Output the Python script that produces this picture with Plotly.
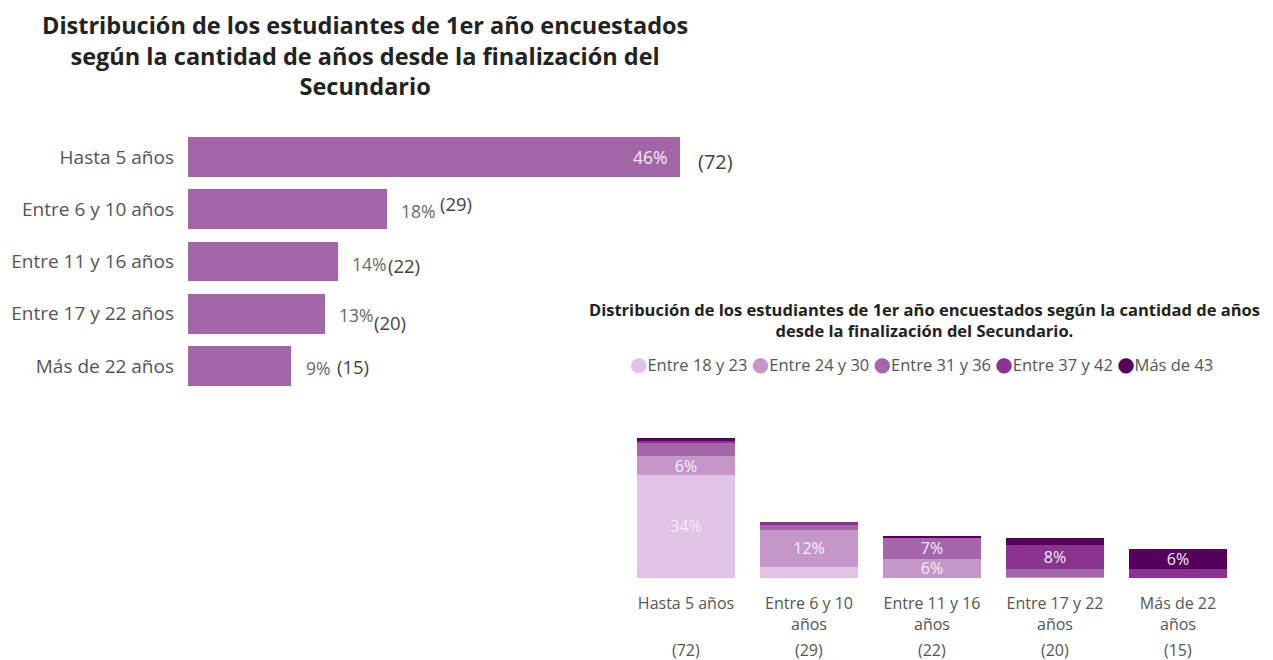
import plotly.graph_objects as go

# page body has an 8px margin, so the figure is drawn 8px in from the corner
OX, OY = 8, 8
W, H = 1265, 652
FONT = "Open Sans"

# left chart data
cats = ["Hasta 5 años", "Entre 6 y 10 años", "Entre 11 y 16 años", "Entre 17 y 22 años", "Más de 22 años"]
pct = [45.6, 18.4, 13.9, 12.7, 9.5]
pct_labels = ["46%", "18%", "14%", "13%", "9%"]
counts = ["(72)", "(29)", "(22)", "(20)", "(15)"]

# right chart data (share of all respondents, %)
tick_labels = ["Hasta 5 años", "Entre 6 y 10<br>años", "Entre 11 y 16<br>años", "Entre 17 y 22<br>años", "Más de 22<br>años"]
groups = ["Entre 18 y 23", "Entre 24 y 30", "Entre 31 y 36", "Entre 37 y 42", "Más de 43"]
seg_18_23 = [34.0, 3.6, 0, 0, 0]
seg_24_30 = [6.0, 12.3, 6.3, 0.4, 0]
seg_31_36 = [4.7, 1.6, 7.0, 2.6, 0]
seg_37_42 = [0.6, 0.8, 0, 8.0, 3.0]
seg_43 = [0.6, 0, 0.6, 2.0, 6.5]
txt_18_23 = ["34%", "", "", "", ""]
txt_24_30 = ["6%", "12%", "6%", "", ""]
txt_31_36 = ["", "", "7%", "", ""]
txt_37_42 = ["", "", "", "8%", ""]
txt_43 = ["", "", "", "", "6%"]

colors = ["#e0c3e6", "#c597c9", "#a565ab", "#8a3390", "#55005a"]


def px_x(p):
    return (p - OX) / W


def px_y(p):
    return 1 - (p - OY) / H


fig = go.Figure()

fig.add_bar(x=pct, y=cats, orientation="h", marker_color="#a265a8", marker_line_width=0,
            width=0.766, xaxis="x", yaxis="y", showlegend=False, hoverinfo="skip")

segs = [seg_18_23, seg_24_30, seg_31_36, seg_37_42, seg_43]
txts = [txt_18_23, txt_24_30, txt_31_36, txt_37_42, txt_43]
for name, vals, t, c in zip(groups, segs, txts, colors):
    fig.add_bar(x=cats, y=vals, text=t, name=name, textposition="inside", insidetextanchor="middle",
                textfont=dict(family=FONT, size=16, color="#f6eef6"), marker_color=c,
                marker_line_width=0, xaxis="x2", yaxis="y2", showlegend=False,
                hoverinfo="skip")

ann = []
# left chart labels
pct_dx = [None, 12, 12, 12, 13]
pct_dy = [0, -2, -2, -1, -2]
cnt_dx = [16, 51, 48, 47, 44]
cnt_dy = [-4, 6, -4, -9, -1]
for i, c in enumerate(cats):
    if i == 0:
        ann.append(dict(x=pct[i], y=c, xref="x", yref="y", text=pct_labels[i], showarrow=False,
                        xanchor="right", xshift=-11, font=dict(family=FONT, size=17.5, color="#f3eaf3")))
    else:
        ann.append(dict(x=pct[i], y=c, xref="x", yref="y", text=pct_labels[i], showarrow=False,
                        xanchor="left", xshift=pct_dx[i], yshift=pct_dy[i],
                        font=dict(family=FONT, size=17.5, color="#6a6a6a")))
    ann.append(dict(x=pct[i], y=c, xref="x", yref="y", text=counts[i], showarrow=False,
                    xanchor="left", xshift=cnt_dx[i], yshift=cnt_dy[i],
                    font=dict(family=FONT, size=20 if i == 0 else 18.5, color="#444444")))

# counts under right chart
for i, c in enumerate(cats):
    ann.append(dict(x=c, y=px_y(650), xref="x2", yref="paper", text=counts[i], showarrow=False,
                    xanchor="center", yanchor="middle",
                    font=dict(family=FONT, size=16, color="#555555")))

# titles
ann.append(dict(x=px_x(365), y=1, xref="paper", yref="paper", showarrow=False,
                xanchor="center", yanchor="top", borderpad=0,
                text="<b>Distribución de los estudiantes de 1er año encuestados<br>"
                     "según la cantidad de años desde la finalización del<br>Secundario</b>",
                align="center", font=dict(family=FONT, size=23.5, color="#222222")))
ann.append(dict(x=px_x(924), y=px_y(320), xref="paper", yref="paper", showarrow=False,
                xanchor="center", yanchor="middle",
                text="<b>Distribución de los estudiantes de 1er año encuestados según la cantidad de años<br>"
                     "desde la finalización del Secundario.</b>",
                align="center", font=dict(family=FONT, size=16.5, color="#222222")))

# legend row with round markers
legend_txt = " ".join(
    f"<span style='color:{c};font-family:DejaVu Sans;font-size:20px'>●</span>{g}"
    for g, c in zip(groups, colors)
)
ann.append(dict(x=px_x(921), y=px_y(364), xref="paper", yref="paper", showarrow=False,
                xanchor="center", yanchor="middle", text=legend_txt,
                font=dict(family=FONT, size=16.5, color="#555555")))

fig.update_layout(
    width=W, height=H,
    margin=dict(l=0, r=0, t=0, b=0),
    paper_bgcolor="white", plot_bgcolor="white",
    barmode="stack",
    bargap=0.21,
    showlegend=False,
    uniformtext=dict(minsize=16, mode="show"),
    font=dict(family=FONT, color="#555555"),
    xaxis=dict(domain=[px_x(188), px_x(188 + 50 * 10.79)], range=[0, 50], visible=False),
    yaxis=dict(domain=[px_y(392), px_y(131)], autorange="reversed", anchor="x",
               showgrid=False, zeroline=False, showline=False, ticks="",
               ticklabelstandoff=13, tickfont=dict(family=FONT, size=19, color="#555555")),
    xaxis2=dict(domain=[px_x(624.5), px_x(1239.5)], anchor="y2", showgrid=False, showline=False,
                ticks="", tickvals=cats, ticktext=tick_labels, ticklabelstandoff=14,
                tickfont=dict(family=FONT, size=16, color="#555555")),
    yaxis2=dict(domain=[px_y(578), px_y(426)], range=[0, 50], anchor="x2", visible=False),
    annotations=ann,
)

fig.write_html("out.html")
